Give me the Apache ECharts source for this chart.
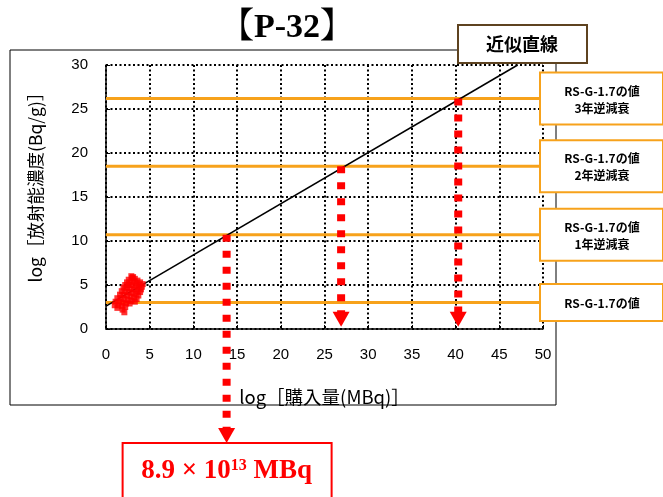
<!DOCTYPE html>
<html><head><meta charset="utf-8">
<script src="https://cdn.jsdelivr.net/npm/echarts@6/dist/echarts.min.js"></script>
<style>html,body{margin:0;padding:0;background:#fff}#c{width:663px;height:497px}</style>
</head><body><div id="c"></div>
<script>
const chartTitle = '【P-32】';
const xName = 'log［購入量(MBq)］';
const yName = 'log［放射能濃度(Bq/g)］';
const xMin = 0, xMax = 50, xStep = 5;
const yMin = 0, yMax = 30, yStep = 5;

// measured samples (log purchase, log concentration)
const sampleX = [2.6,3.0,3.3,3.6,3.9,4.2,2.4,2.8,3.2,3.5,3.8,4.1,2.2,2.6,3.0,3.4,3.7,4.0,2.0,2.4,2.8,3.2,3.6,3.9,1.8,2.2,2.6,3.0,3.4,3.7,1.6,2.0,2.4,2.8,3.2,3.5,1.3,1.7,2.1,2.5,2.9,3.3,1.1,1.5,1.9,2.3,2.7,1.0,1.4,1.8,2.2,1.3,1.9,2.1,2.9,3.1];
const sampleY = [5.6,5.8,5.7,5.5,5.3,5.1,5.3,5.3,5.4,5.2,5.0,4.8,5.0,5.0,5.0,4.9,4.7,4.5,4.7,4.7,4.6,4.5,4.3,4.2,4.3,4.3,4.2,4.1,4.0,3.8,3.9,3.9,3.8,3.7,3.6,3.4,3.5,3.5,3.4,3.3,3.2,3.1,3.1,3.1,3.0,2.9,2.9,2.7,2.7,2.6,2.5,2.4,2.2,1.9,6.0,5.9];

const fitX = [0, 47.1];
const fitY = [2.6, 30];
const fitLabel = '近似直線';

const levelValues = [3.0, 10.7, 18.5, 26.2];
const levelLabels = ['RS-G-1.7の値', 'RS-G-1.7の値\n1年逆減衰', 'RS-G-1.7の値\n2年逆減衰', 'RS-G-1.7の値\n3年逆減衰'];

const arrowX = [13.8, 26.9, 40.3];
const arrowFromY = [10.7, 18.5, 26.2];
const arrowToY = [-12.1, 1.1, 1.1];

const resultMantissa = '8.9 × 10';
const resultExp = '13';
const resultUnit = ' MBq';

const ORANGE = '#F7A21B';
const RED = '#FF0000';
const chart = echarts.init(document.getElementById('c'));

const series = [];
levelValues.forEach(v => {
  series.push({type:'line', data:[[xMin,v],[xMax,v]], symbol:'none', silent:true,
    lineStyle:{color:ORANGE, width:3}, z:3});
});
series.push({type:'line', data:fitX.map((x,i)=>[x,fitY[i]]), symbol:'none',
  lineStyle:{color:'#000', width:1.5}, z:4});
series.push({type:'scatter', data:sampleX.map((x,i)=>[x,sampleY[i]]), symbol:'rect', symbolSize:6,
  itemStyle:{color:RED}, z:6});
arrowX.forEach((x,i) => {
  series.push({type:'line', clip:false, z:10, showSymbol:true,
    data:[{value:[x,arrowFromY[i]], symbol:'none'},
          {value:[x,arrowToY[i]], symbol:'triangle', symbolRotate:180, symbolSize:[17,15]}],
    itemStyle:{color:RED}, lineStyle:{color:RED, width:8, type:[7,9], cap:'butt'}});
});

const axisFont = {color:'#000', fontSize:15, fontFamily:'Liberation Sans, Arial, sans-serif'};
const grid = {left:106, right:120, top:65, bottom:168};
const splitStyle = {show:true, lineStyle:{color:'#000', width:2, type:[2,2.5]}};

chart.setOption({
  animation:false,
  grid: grid,
  xAxis:{type:'value', min:xMin, max:xMax, interval:xStep,
    name:xName, nameLocation:'middle', nameGap:59,
    nameTextStyle:{color:'#000', fontSize:18.5, fontFamily:'Noto Sans CJK JP, sans-serif'},
    axisLine:{show:true, onZero:false, lineStyle:{color:'#000', width:1.5}},
    axisTick:{show:true, inside:true, length:4, lineStyle:{color:'#000'}},
    axisLabel:Object.assign({margin:18}, axisFont),
    splitLine:splitStyle},
  yAxis:{type:'value', min:yMin, max:yMax, interval:yStep,
    name:yName, nameLocation:'middle', nameGap:62, nameRotate:90,
    nameTextStyle:{color:'#000', fontSize:17.5, fontFamily:'Noto Sans CJK JP, sans-serif', padding:[0,0,0,28]},
    axisLine:{show:true, onZero:false, lineStyle:{color:'#000', width:1.5}},
    axisTick:{show:true, inside:true, length:4, lineStyle:{color:'#000'}},
    axisLabel:Object.assign({margin:18}, axisFont),
    splitLine:splitStyle},
  series: series
});

// annotations
const graphics = [];
graphics.push({type:'rect', z:0, silent:true, shape:{x:10, y:50, width:546, height:355},
  style:{fill:'none', stroke:'#000', lineWidth:1}});
graphics.push({type:'text', z:50, style:{x:287, y:28, text:chartTitle, textAlign:'center', textVerticalAlign:'middle',
  font:'bold 34px "Liberation Serif", "Noto Serif CJK JP", serif', fill:'#000'}});
graphics.push({type:'rect', z:50, shape:{x:458, y:25, width:129, height:38},
  style:{fill:'#fff', stroke:'#5E4320', lineWidth:2}});
graphics.push({type:'text', z:51, style:{x:522, y:44, text:fitLabel, textAlign:'center', textVerticalAlign:'middle',
  font:'bold 18px "Noto Sans CJK JP", sans-serif', fill:'#000'}});
levelValues.forEach((v,i) => {
  const py = chart.convertToPixel({gridIndex:0}, [xMax, v])[1];
  const h = levelLabels[i].indexOf('\n') >= 0 ? 52 : 37;
  graphics.push({type:'rect', z:50, shape:{x:540, y:py-h/2, width:123, height:h},
    style:{fill:'#fff', stroke:ORANGE, lineWidth:2}});
  graphics.push({type:'text', z:51, style:{x:602, y:py+1, text:levelLabels[i], textAlign:'center', textVerticalAlign:'middle',
    font:'bold 12px "Noto Sans CJK JP", sans-serif', lineHeight:17, fill:'#000'}});
});
const rx = chart.convertToPixel({gridIndex:0}, [arrowX[0], 0])[0];
graphics.push({type:'rect', z:50, shape:{x:rx-104, y:443, width:209, height:60},
  style:{fill:'#fff', stroke:RED, lineWidth:2}});
graphics.push({type:'text', z:51, style:{x:rx, y:471, textAlign:'center', textVerticalAlign:'middle',
  text:'{a|'+resultMantissa+'}{s|'+resultExp+'}{a|'+resultUnit+'}',
  rich:{a:{font:'bold 27px "Liberation Serif", serif', fill:RED, verticalAlign:'bottom'},
        s:{font:'bold 16px "Liberation Serif", serif', fill:RED, verticalAlign:'top'}}}});
chart.setOption({graphic:{elements:graphics}});
</script></body></html>
